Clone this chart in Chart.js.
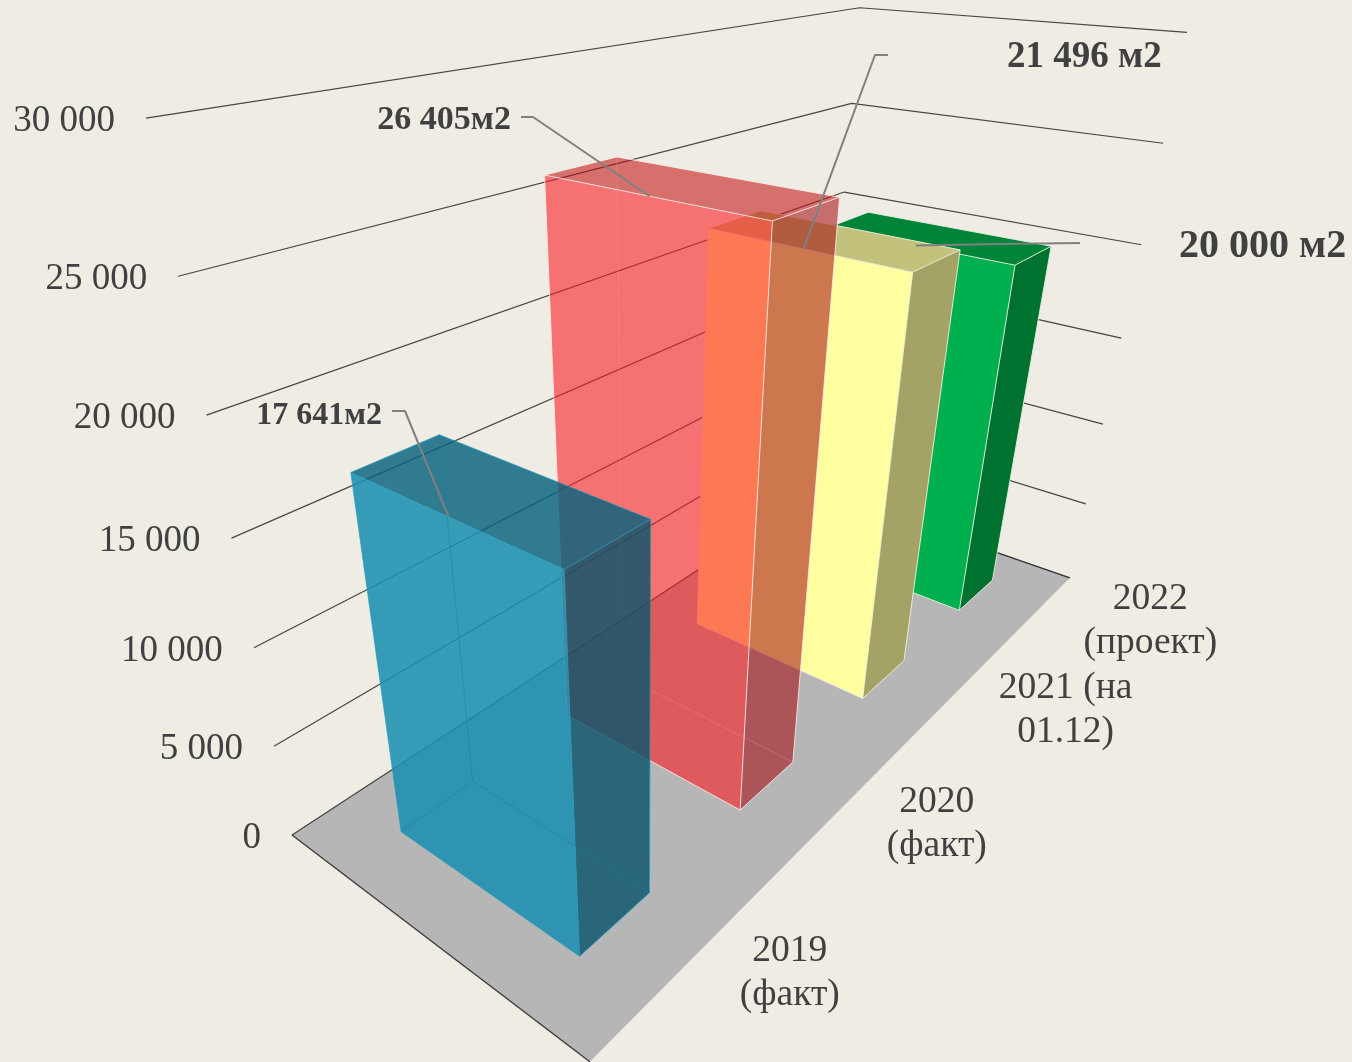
<!DOCTYPE html>
<html>
<head>
  <title>Площадь по годам</title>
  <meta charset="utf-8">
  <script src="https://cdn.jsdelivr.net/npm/chart.js@4/dist/chart.umd.js"></script>
  <style>
    html, body { margin: 0; padding: 0; background: #efece4; overflow: hidden; }
    canvas { display: block; }
  </style>
</head>
<body>
<canvas id="myChart" width="1352" height="1062"></canvas>
<script>
  // data
  var categories = [['2019', '(факт)'], ['2020', '(факт)'], ['2021 (на', '01.12)'], ['2022', '(проект)']];
  // the 2021 bar is drawn taller in the picture than its 21 496 label says
  var barValues = [17641, 26405, 22150, 20000];
  var barLabels = ['17 641м2', '26 405м2', '21 496 м2', '20 000 м2'];
  var tickValues = [0, 5000, 10000, 15000, 20000, 25000, 30000];
  var tickLabels = ['0', '5 000', '10 000', '15 000', '20 000', '25 000', '30 000'];

  // styles, one entry per bar
  var frontColors = ['rgba(29,143,177,0.88)', 'rgba(251,24,30,0.58)', '#ffffa0', '#00b04f'];
  var sideColors = ['rgba(11,84,107,0.82)', 'rgba(162,4,12,0.54)', '#a3a365', '#007230'];
  var topColors = ['rgba(7,98,127,0.82)', 'rgba(192,11,10,0.55)', '#c3c27d', '#00843a'];
  var edgeColors = ['rgba(30,155,190,0.7)', 'rgba(255,235,235,0.85)', 'rgba(240,240,225,0.9)', 'rgba(225,240,225,0.9)'];
  var hiddenEdgeColors = ['rgba(20,125,160,0.45)', 'rgba(255,150,150,0.3)', null, null];

  // label layout: category label shift from the floor edge, value label text and leader elbows
  var catLabelDx = [107, 106, 122, 118];
  var calloutLayout = [
    { x: 382, y: 416, size: 32, align: 'right', from: [392, 411], elbow: [405, 411] },
    { x: 511, y: 120, size: 34, align: 'right', from: [521, 117], elbow: [533, 117] },
    { x: 1007, y: 57, size: 37, align: 'left', from: [888, 55], elbow: [875, 55] },
    { x: 1179, y: 247, size: 40, align: 'left', from: [1080, 243], elbow: [1000, 244] }
  ];

  var depthFront = 0.805;
  var depthBack = 0.2;
  var textColor = '#404040';
  var serif = '"Liberation Serif", "Times New Roman", serif';

  // perspective box: vanishing points of the three edge directions and their weights
  var origin = [292, 835];
  var vpCat = [1776, -134], wCat = 0.5506;
  var vpDepth = [-977, -131], wDepth = -0.1901;
  var vpUp = [644, 2563], wUp = -0.2932;

  function project(u, d, v) {
    var a = u * wCat, b = d * wDepth, c = v * wUp;
    var w = a + b + c + 1;
    return [
      (a * vpCat[0] + b * vpDepth[0] + c * vpUp[0] + origin[0]) / w,
      (a * vpCat[1] + b * vpDepth[1] + c * vpUp[1] + origin[1]) / w
    ];
  }

  function poly(ctx, pts, fill) {
    ctx.beginPath();
    pts.forEach(function(p, i) {
      if (i === 0) ctx.moveTo(p[0], p[1]);
      else ctx.lineTo(p[0], p[1]);
    });
    ctx.closePath();
    ctx.fillStyle = fill;
    ctx.fill();
  }

  function stroke(ctx, pts, color, width) {
    ctx.beginPath();
    pts.forEach(function(p, i) {
      if (i === 0) ctx.moveTo(p[0], p[1]);
      else ctx.lineTo(p[0], p[1]);
    });
    ctx.strokeStyle = color;
    ctx.lineWidth = width;
    ctx.stroke();
  }

  var box3d = {
    id: 'box3d',
    afterDatasetsDraw: function(chart) {
      var ctx = chart.ctx;
      var area = chart.chartArea;
      var yScale = chart.scales.y;
      var xScale = chart.scales.x;
      var bars = chart.getDatasetMeta(0).data;

      function uOf(px) { return (px - area.left) / area.width; }
      function vOf(val) { return (area.bottom - yScale.getPixelForValue(val)) / area.height; }

      ctx.save();
      ctx.lineJoin = 'round';

      // floor
      poly(ctx, [project(0, 0, 0), project(0, 1, 0), project(1, 1, 0), project(1, 0, 0)], '#b6b6b6');
      stroke(ctx, [project(0, 0, 0), project(0, 1, 0)], '#3c3c3c', 1.4);
      stroke(ctx, [project(1, 0, 0), project(1, 1, 0)], '#777777', 1);

      // wall grid lines and value ticks
      ctx.font = '37px ' + serif;
      ctx.fillStyle = textColor;
      ctx.textBaseline = 'middle';
      ctx.textAlign = 'right';
      tickValues.forEach(function(val, i) {
        var v = vOf(val);
        stroke(ctx, [project(0, 0, v), project(1, 0, v), project(1, 1, v)], 'rgba(40,40,40,0.85)', 1.2);
        var p = project(0, 0, v);
        ctx.fillText(tickLabels[i], p[0] - 31, p[1] + 3);
      });

      // bars, far one first
      for (var i = bars.length - 1; i >= 0; i--) {
        var bar = bars[i];
        var u0 = uOf(bar.x - bar.width / 2);
        var u1 = uOf(bar.x + bar.width / 2);
        var v = vOf(barValues[i]);
        var b1 = project(u0, depthBack, 0), b2 = project(u0, depthFront, 0);
        var b3 = project(u1, depthFront, 0), b4 = project(u1, depthBack, 0);
        var t1 = project(u0, depthBack, v), t2 = project(u0, depthFront, v);
        var t3 = project(u1, depthFront, v), t4 = project(u1, depthBack, v);

        poly(ctx, [t1, t2, t3, t4], topColors[i]);
        poly(ctx, [b2, b3, t3, t2], sideColors[i]);
        poly(ctx, [b1, b2, t2, t1], frontColors[i]);

        if (hiddenEdgeColors[i]) {
          stroke(ctx, [t4, b4], hiddenEdgeColors[i], 1);
          stroke(ctx, [b1, b4, b3], hiddenEdgeColors[i], 1);
        }
        stroke(ctx, [b1, t1, t2, t3, t4, t1], edgeColors[i], 1);
        stroke(ctx, [b2, t2], edgeColors[i], 1);
        stroke(ctx, [b1, b2, b3, t3], edgeColors[i], 1);
      }

      // category labels along the front floor edge
      ctx.font = '37.5px ' + serif;
      ctx.fillStyle = textColor;
      ctx.textAlign = 'center';
      categories.forEach(function(lines, i) {
        var p = project(uOf(xScale.getPixelForValue(i)), 1, 0);
        lines.forEach(function(line, k) {
          ctx.fillText(line, p[0] + catLabelDx[i], p[1] + 5 + (k - 0.5) * 44);
        });
      });

      // value callouts with leader lines to the middle of the top edge
      bars.forEach(function(bar, i) {
        var c = calloutLayout[i];
        var anchor = project(uOf(bar.x - bar.width / 2), 0.5, vOf(barValues[i]));
        stroke(ctx, [c.from, c.elbow, anchor], '#808080', 2);
        ctx.font = 'bold ' + c.size + 'px ' + serif;
        ctx.fillStyle = textColor;
        ctx.textAlign = c.align;
        ctx.fillText(barLabels[i], c.x, c.y);
      });

      ctx.restore();
    }
  };

  new Chart(document.getElementById('myChart'), {
    type: 'bar',
    data: {
      labels: categories,
      datasets: [{
        data: barValues,
        backgroundColor: 'rgba(0,0,0,0)',
        borderWidth: 0,
        barPercentage: 1,
        categoryPercentage: 0.4
      }]
    },
    plugins: [box3d],
    options: {
      responsive: false,
      animation: false,
      layout: { padding: 0 },
      scales: {
        x: { display: false },
        y: { display: false, min: 0, max: 30000 }
      },
      plugins: {
        legend: { display: false },
        tooltip: { enabled: false }
      }
    }
  });
</script>
</body>
</html>
